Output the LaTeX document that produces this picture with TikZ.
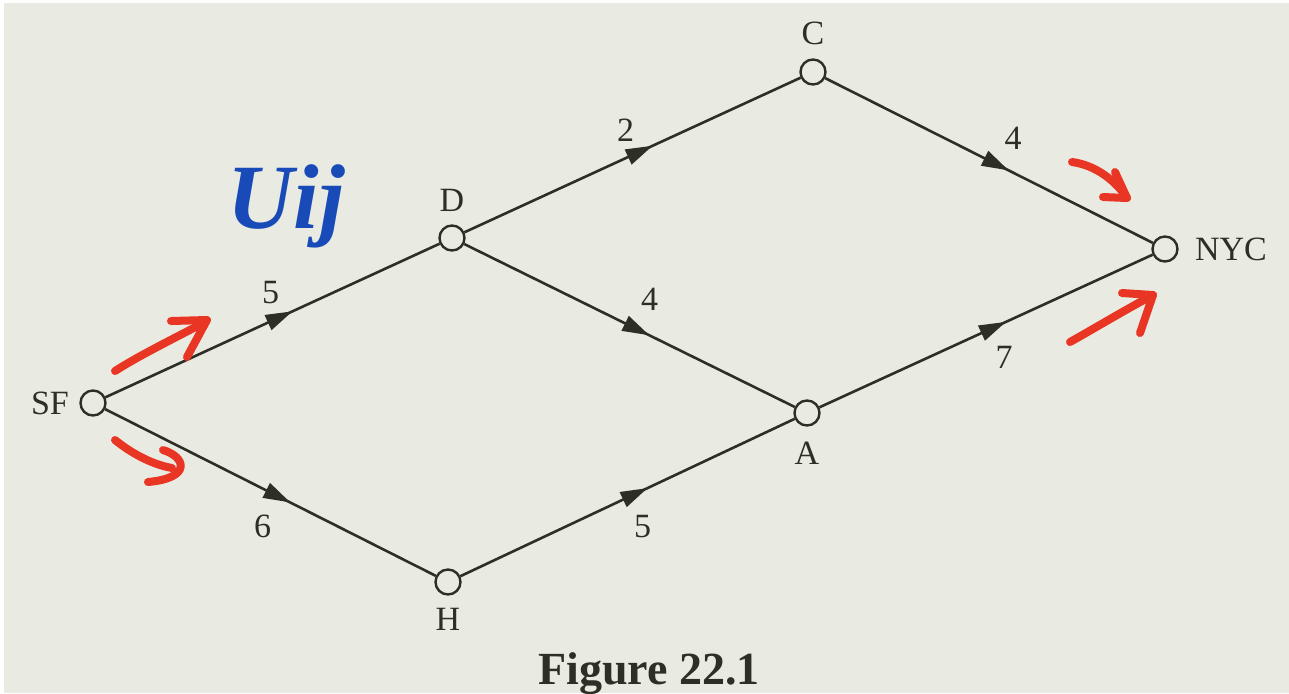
\documentclass[tikz,border=0pt]{standalone}
\usepackage{fontspec}
\setmainfont{Liberation Serif}
\usepackage{tikz}
\usetikzlibrary{positioning, arrows.meta, decorations.markings}
\definecolor{paper}{RGB}{233,234,226}
\definecolor{ink}{RGB}{45,47,38}
\definecolor{pen}{RGB}{233,53,36}
\definecolor{marker}{RGB}{24,74,184}

\begin{document}
\begin{tikzpicture}[
  x=0.5pt, y=-0.5pt,
  city/.style={circle, draw=ink, line width=1.2pt, fill=paper,
               minimum size=12.5pt, inner sep=0pt},
  lbl/.style={font=\fontsize{17}{17}\selectfont, text=ink, inner sep=1pt},
  wt/.style={font=\fontsize{17}{17}\selectfont, text=ink, inner sep=0pt},
  road/.style={draw=ink, color=ink, line width=1.3pt, postaction={decorate},
               decoration={markings, mark=at position 0.56 with
                 {\arrow{Triangle[length=13.5pt, width=8pt]}}}},
  hand/.style={draw=pen, line width=4pt, line cap=round, line join=round}
]

\fill[white] (0,0) rectangle (1289,693);
\fill[paper] (4,3) rectangle (1289,693);
\useasboundingbox (0,0) rectangle (1289,693);

\node[city] (sf) at (93,403) {};
\node[city] (d) at (452,238) {};
\node[city] (c) at (813,72) {};
\node[city] (nyc) at (1165,249) {};
\node[city] (a) at (807,413) {};
\node[city] (h) at (448,582) {};

\node[lbl, left=4pt of sf] (sfl) {SF};
\node[lbl, above=5.5pt of c] (cl) {C};
\node[lbl, above=5pt of d] (dl) {D};
\node[lbl, right=7pt of nyc] (nycl) {NYC};
\node[lbl, below=6.5pt of a] (al) {A};
\node[lbl, below=5pt of h] (hl) {H};

\draw[road] (sf) -- node[wt, shift={(-2,-28)}] (w1) {5} (d);
\draw[road] (d) -- node[wt, shift={(-7,-25)}] (w2) {2} (c);
\draw[road] (c) -- node[wt, shift={(24,-22)}] (w3) {4} (nyc);
\draw[road] (d) -- node[wt, shift={(20,-26)}] (w4) {4} (a);
\draw[road] (a) -- node[wt, shift={(18,26)}] (w5) {7} (nyc);
\draw[road] (sf) -- node[wt, shift={(-8,34)}] (w6) {6} (h);
\draw[road] (h) -- node[wt, shift={(15,29)}] (w7) {5} (a);

\node[anchor=base west, text=marker,
      font=\fontsize{46}{46}\selectfont\bfseries\itshape] (uij) at (220,228) {Uij};

\draw[hand] (115,371) .. controls (140,355) and (175,338) .. (205,322);
\draw[hand] (171,321) -- (207,320) -- (187,357);
\draw[hand] (115,440) .. controls (130,452) and (150,464) .. (172,468);
\draw[hand] (163,450) .. controls (186,457) and (192,478) .. (148,482);
\draw[hand] (1072,162) .. controls (1095,165) and (1115,180) .. (1127,198);
\draw[hand] (1115,172) -- (1127,198) -- (1103,197);
\draw[hand] (1070,342) .. controls (1095,328) and (1125,310) .. (1153,295);
\draw[hand] (1122,293) -- (1153,295) -- (1140,333);

\node[anchor=base, text=ink, font=\fontsize{23}{23}\selectfont\bfseries]
  (cap) at (649,684) {Figure 22.1};

\end{tikzpicture}
\end{document}
